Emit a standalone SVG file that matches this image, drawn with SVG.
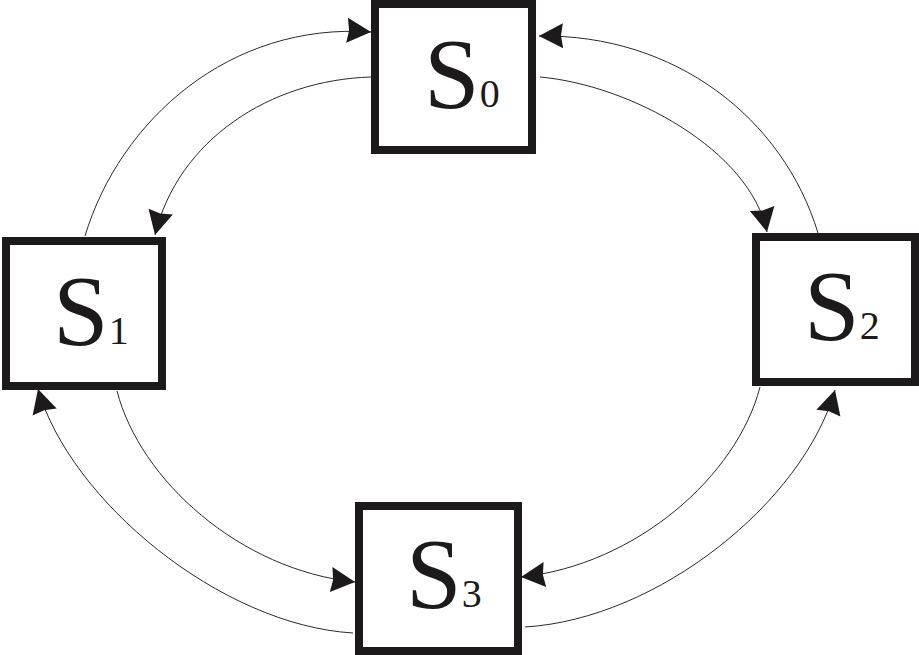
<svg xmlns="http://www.w3.org/2000/svg" width="919" height="655" viewBox="0 0 919 655">
<style>
.box{fill:#fff;stroke:#1c1a1b;stroke-width:8}
.lbl{font-size:100px;fill:#1c1a1b}
.sub{font-size:40px}
.conn path{fill:none;stroke:#2a2a2a;stroke-width:1;marker-end:url(#ah)}
</style>
<defs>
<marker id="ah" markerUnits="userSpaceOnUse" markerWidth="26" markerHeight="26" viewBox="-24 -13 26 26" refX="0" refY="0" orient="auto" overflow="visible">
<path d="M0,0 L-24,-12.5 L-22,0 L-24,12.5 Z" fill="#1c1a1b"/>
</marker>
</defs>
<rect width="919" height="655" fill="#fff"/>
<g class="conn" id="connectors">
<path d="M85,236 C120,120 230,22 371,32"/>
<path d="M371,77 C270,80 178,140 155,235"/>
<path d="M540,77 C630,85 750,150 767,232"/>
<path d="M818,233 C783,118 675,34 539,36"/>
<path d="M760,387 C737,476 636,565 521,577"/>
<path d="M525,627 C658,619 803,502 835,390"/>
<path d="M353,633 C220,625 70,500 38,389"/>
<path d="M117,391 C140,480 240,570 355,582"/>
</g>
<g id="S0"><rect class="box" x="375" y="4" width="157" height="146"/><text class="lbl" font-family="Liberation Serif, DejaVu Serif, serif" x="424" y="107">S<tspan class="sub">0</tspan></text></g>
<g id="S1"><rect class="box" x="6" y="241" width="156" height="145"/><text class="lbl" font-family="Liberation Serif, DejaVu Serif, serif" x="53" y="344">S<tspan class="sub">1</tspan></text></g>
<g id="S2"><rect class="box" x="756" y="237" width="159" height="145"/><text class="lbl" font-family="Liberation Serif, DejaVu Serif, serif" x="804" y="339">S<tspan class="sub">2</tspan></text></g>
<g id="S3"><rect class="box" x="359" y="506" width="159" height="145"/><text class="lbl" font-family="Liberation Serif, DejaVu Serif, serif" x="406" y="607">S<tspan class="sub">3</tspan></text></g>
</svg>
